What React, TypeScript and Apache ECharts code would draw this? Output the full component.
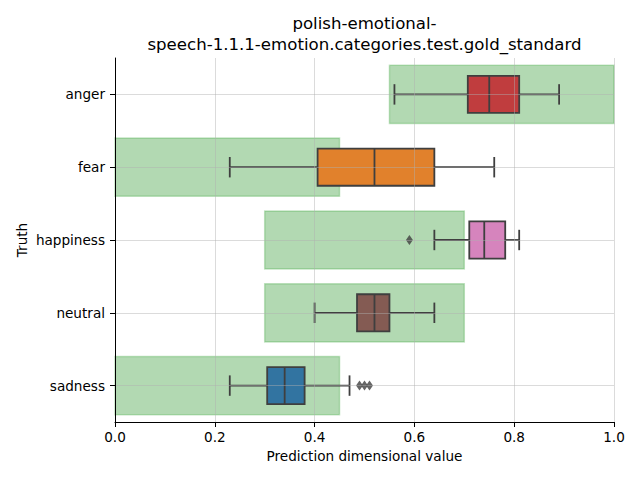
import React, { useEffect, useRef } from "react";
import * as echarts from "echarts";

const categories = ["anger", "fear", "happiness", "neutral", "sadness"];
const whiskerLow = [0.56, 0.23, 0.64, 0.4, 0.23];
const quartile1 = [0.707, 0.406, 0.71, 0.485, 0.305];
const medians = [0.75, 0.52, 0.74, 0.52, 0.34];
const quartile3 = [0.81, 0.64, 0.782, 0.55, 0.38];
const whiskerHigh = [0.89, 0.76, 0.81, 0.64, 0.47];
const rangeLow = [0.55, 0.0, 0.3, 0.3, 0.0];
const rangeHigh = [1.0, 0.45, 0.7, 0.7, 0.45];
const outlierValues = [0.59, 0.49, 0.5, 0.51];
const outlierCategories = ["happiness", "sadness", "sadness", "sadness"];
const boxColors = ["#c03d3e", "#e1812c", "#d684bd", "#845b53", "#3274a1"];

const FONT = "DejaVu Sans";
const LINE = "#3f3f3f";
const TICK_FONT = 13.6;

export default function App() {
  const ref = useRef<HTMLDivElement>(null);
  useEffect(() => {
    if (!ref.current) return;
    const chart = echarts.init(ref.current, null, { renderer: "svg" });

    const rangeData = categories.map((_, i) => [i, rangeLow[i], rangeHigh[i]]);
    const boxData = categories.map((_, i) => [
      i,
      whiskerLow[i],
      quartile1[i],
      medians[i],
      quartile3[i],
      whiskerHigh[i],
    ]);
    const outlierData = outlierValues.map((v, i) => [
      v,
      categories.indexOf(outlierCategories[i]),
    ]);

    chart.setOption({
      animation: false,
      textStyle: { fontFamily: FONT },
      graphic: [
        {
          type: "text",
          x: 364.5,
          y: 13,
          style: {
            text: "polish-emotional-\nspeech-1.1.1-emotion.categories.test.gold_standard",
            fontFamily: FONT,
            fontSize: 16.6,
            lineHeight: 21,
            fill: "#000",
            align: "center",
            verticalAlign: "top",
          },
        },
      ],
      grid: { left: 115, right: 26, top: 58, bottom: 58 },
      xAxis: {
        type: "value",
        min: 0,
        max: 1,
        interval: 0.2,
        z: 10,
        name: "Prediction dimensional value",
        nameLocation: "middle",
        nameGap: 27,
        nameTextStyle: { fontFamily: FONT, fontSize: TICK_FONT, color: "#000" },
        axisLine: { show: true, lineStyle: { color: "#000", width: 1 } },
        axisTick: { show: true, length: 5, lineStyle: { color: "#000" } },
        axisLabel: {
          fontFamily: FONT,
          fontSize: TICK_FONT,
          color: "#000",
          margin: 8,
          formatter: (v: number) => v.toFixed(1),
        },
        splitLine: {
          show: true,
          lineStyle: { color: "rgba(176,176,176,0.45)", width: 1 },
        },
      },
      yAxis: {
        type: "category",
        data: categories,
        inverse: true,
        z: 10,
        name: "Truth",
        nameLocation: "middle",
        nameGap: 86,
        nameMoveOverlap: false,
        nameRotate: 90,
        nameTextStyle: { fontFamily: FONT, fontSize: TICK_FONT, color: "#000" },
        axisLine: { show: true, lineStyle: { color: "#000", width: 1 } },
        axisTick: {
          show: true,
          alignWithLabel: true,
          length: 5,
          lineStyle: { color: "#000" },
        },
        axisLabel: { fontFamily: FONT, fontSize: TICK_FONT, color: "#000", margin: 10 },
        splitLine: {
          show: true,
          alignWithLabel: true,
          lineStyle: { color: "rgba(176,176,176,0.45)", width: 1 },
        },
      },
      series: [
        {
          type: "custom",
          z: 1,
          data: rangeData,
          encode: { x: [1, 2], y: 0 },
          renderItem: (params: any, api: any) => {
            const ci = api.value(0);
            const a = api.coord([api.value(1), ci]);
            const b = api.coord([api.value(2), ci]);
            const band = api.size([0, 1])[1];
            const h = band * 0.8;
            return {
              type: "rect",
              shape: { x: a[0], y: a[1] - h / 2, width: b[0] - a[0], height: h },
              style: {
                fill: "rgba(0,128,0,0.3)",
                stroke: "rgba(0,140,0,0.22)",
                lineWidth: 1.5,
              },
            };
          },
        },
        {
          type: "custom",
          z: 2,
          data: boxData,
          encode: { x: [1, 2, 3, 4, 5], y: 0 },
          renderItem: (params: any, api: any) => {
            const ci = api.value(0);
            const pLo = api.coord([api.value(1), ci]);
            const pQ1 = api.coord([api.value(2), ci]);
            const pMed = api.coord([api.value(3), ci]);
            const pQ3 = api.coord([api.value(4), ci]);
            const pHi = api.coord([api.value(5), ci]);
            const band = api.size([0, 1])[1];
            const h = band * 0.51;
            const cap = h * 0.55;
            const y = pLo[1];
            const st = { stroke: LINE, lineWidth: 1.8 };
            return {
              type: "group",
              children: [
                { type: "line", shape: { x1: pLo[0], y1: y, x2: pQ1[0], y2: y }, style: st },
                { type: "line", shape: { x1: pQ3[0], y1: y, x2: pHi[0], y2: y }, style: st },
                { type: "line", shape: { x1: pLo[0], y1: y - cap / 2, x2: pLo[0], y2: y + cap / 2 }, style: st },
                { type: "line", shape: { x1: pHi[0], y1: y - cap / 2, x2: pHi[0], y2: y + cap / 2 }, style: st },
                {
                  type: "rect",
                  shape: { x: pQ1[0], y: y - h / 2, width: pQ3[0] - pQ1[0], height: h },
                  style: { fill: boxColors[params.dataIndex], stroke: LINE, lineWidth: 1.8 },
                },
                { type: "line", shape: { x1: pMed[0], y1: y - h / 2, x2: pMed[0], y2: y + h / 2 }, style: st },
              ],
            };
          },
        },
        {
          type: "scatter",
          z: 3,
          data: outlierData,
          symbol: "diamond",
          symbolSize: [7, 10],
          itemStyle: { color: LINE },
        },
      ],
    });
    return () => chart.dispose();
  }, []);
  return (
    <div
      ref={ref}
      style={{ position: "fixed", left: 0, top: 0, width: 640, height: 480, background: "#fff" }}
    />
  );
}
